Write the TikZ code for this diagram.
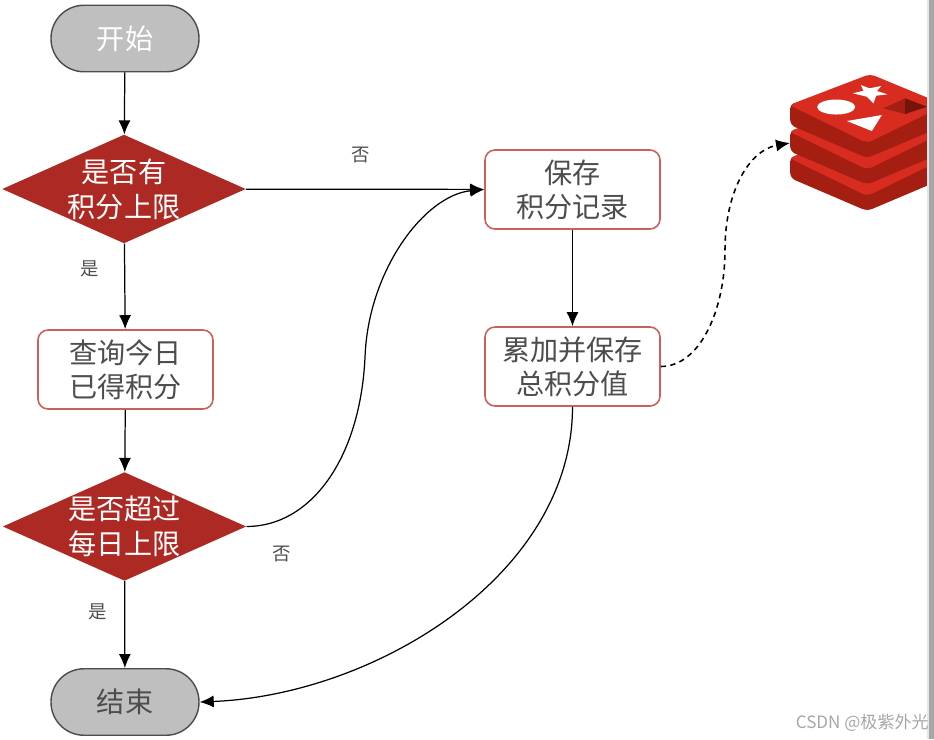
\documentclass[tikz,border=0pt]{standalone}
\usepackage{fontspec}
\setmainfont{Noto Sans CJK SC}
\usepackage{tikz}
\usetikzlibrary{arrows.meta,positioning,shapes.geometric}
\definecolor{boxred}{HTML}{C9605A}
\definecolor{diared}{HTML}{AD2A24}
\definecolor{txtgray}{HTML}{4D4D4D}
\definecolor{logotop}{HTML}{D82C20}
\definecolor{logoside}{HTML}{A41E11}

\begin{document}
\begin{tikzpicture}[
  terminal/.style={rectangle, rounded corners=0.66cm, draw=black!70, fill=black!25, line width=0.8pt, minimum width=2.96cm, minimum height=1.33cm, font=\fontsize{16}{20}\selectfont},
  decision/.style={diamond, fill=diared, text=white, inner sep=-0.5pt, aspect=2.24, minimum width=4.85cm, minimum height=2.15cm, align=center, font=\fontsize{16}{20}\selectfont},
  process/.style={rectangle, rounded corners=0.2cm, draw=boxred, fill=white, text=txtgray, line width=0.9pt, minimum width=3.5cm, minimum height=1.58cm, align=center, font=\fontsize{16}{19.5}\selectfont},
  tag/.style={text=txtgray, font=\fontsize{10.5}{12}\selectfont},
  flow/.style={-{Latex[length=2.8mm,width=2.4mm]}, line width=0.7pt}
]
  \useasboundingbox (0,0) rectangle (18.68,-14.78);

  \node[terminal, text=white] (start) at (2.5,-0.77) {开始};
  \node[decision] (limit) at (2.48,-3.78) {是否有\\积分上限};
  \node[process] (query) at (2.51,-7.39) {查询今日\\已得积分};
  \node[decision] (exceed) at (2.49,-10.53) {是否超过\\每日上限};
  \node[terminal, text=txtgray] (finish) at (2.5,-14.04) {结束};
  \node[process] (save) at (11.45,-3.79) {保存\\积分记录};
  \node[process] (total) at (11.45,-7.33) {累加并保存\\总积分值};
  \coordinate (bend) at (7.3,-7.15);
  \coordinate (turn) at (14.5,-5.0);
  \coordinate (redis) at (15.8,-2.86);

  \draw[flow] (start) -- (limit);
  \draw[flow] (limit) -- (query);
  \draw[flow] (query) -- (exceed);
  \draw[flow] (exceed) -- (finish);
  \draw[flow] (limit) -- (save);
  \draw[flow] (save) -- (total);
  \draw[flow] (exceed.east) .. controls (6.2,-10.53) and (7.2,-9.2) .. (bend) .. controls (7.36,-5.4) and (8.5,-3.9) .. (save.west);
  \draw[flow] (total.south) .. controls (11.45,-11.5) and (7.5,-13.9) .. (finish.east);
  \draw[flow, dash pattern=on 3pt off 2.5pt, line width=0.9pt] (total.east) .. controls (14,-7.33) and (14.5,-6.2) .. (turn) .. controls (14.5,-3.8) and (15,-3) .. (redis);

  \node[tag] (no1) at (7.22,-3.1) {否};
  \node[tag] (yes1) at (1.8,-5.38) {是};
  \node[tag] (no2) at (5.64,-11.08) {否};
  \node[tag] (yes2) at (1.96,-12.24) {是};

  % logo
  \begin{scope}[x=0.02cm, y=-0.02cm]
    \clip (780,60) rectangle (927,220);
    \foreach \dy in {53,26.5,0} {
      \fill[logoside, rounded corners=3pt] (790,103+\dy) -- (790,125+\dy) -- (867,158+\dy) -- (945,125+\dy) -- (945,103+\dy) -- cycle;
      \fill[logotop, rounded corners=3pt] (789,105+\dy) -- (870,74+\dy) -- (945,105+\dy) -- (867,143+\dy) -- cycle;
    }
    \fill[white] (836,107) ellipse (19 and 7.5);
    \fill[white] (860.7,85) -- (869.3,88.3) -- (881,86) -- (876.7,91) -- (887.3,94.3) -- (876,95.7) -- (873.3,103.3) -- (866.7,96.7) -- (852.7,93.3) -- (863.3,90.7) -- cycle;
    \fill[white] (846.7,121) -- (881.7,115) -- (871.7,131) -- cycle;
    \fill[logoside] (883.3,108.3) -- (905,98.3) -- (905,114) -- cycle;
    \fill[black!30!logoside] (905,98.3) -- (926.7,106.7) -- (905,114) -- cycle;
  \end{scope}

  \fill[black!10] (18.54,0) rectangle (18.58,-14.78);
  \fill[black!35] (18.58,0) rectangle (18.68,-14.78);
  \node[anchor=east, text=black!35, inner sep=0pt, font=\fontsize{9.7}{11}\selectfont] (mark) at (18.58,-14.46) {CSDN @极紫外光};
\end{tikzpicture}
\end{document}
